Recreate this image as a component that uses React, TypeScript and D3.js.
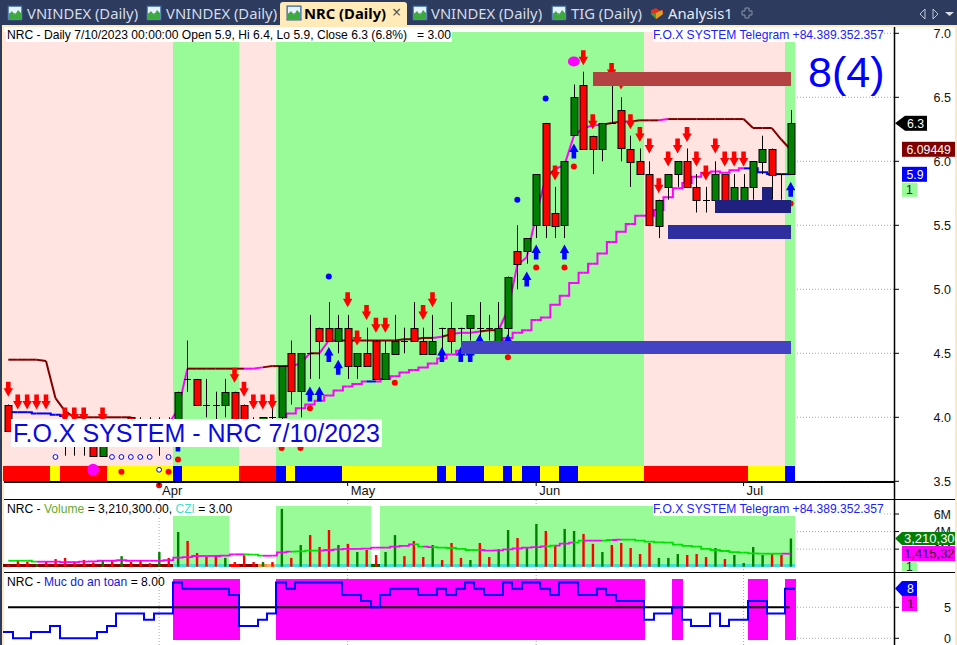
import React from "react";
import * as d3 from "d3";

const FONT = "'Liberation Sans', Arial, sans-serif";
const TAB_FONT = "'Noto Sans', 'Open Sans', sans-serif";

// ---------- data ----------
const opens = [4.1,3.9,3.9,3.9,3.9,3.9,3.9,3.9,3.9,3.9,3.7,3.9,3.9,4.0,3.9,3.9,3.9,3.9,3.8,4.3,4.3,4.1,4.1,4.1,4.2,4.1,3.9,3.9,4.0,4.0,4.5,4.2,4.5,4.7,4.7,4.6,4.7,4.4,4.5,4.6,4.3,4.5,4.6,4.7,4.6,4.5,4.7,4.7,4.7,4.7,4.7,4.7,4.6,4.7,5.3,5.3,5.5,6.3,5.6,5.5,6.2,6.6,6.2,6.1,6.3,6.4,6.1,6.0,5.9,5.5,5.8,5.9,6.0,5.8,5.7,5.7,5.9,5.7,5.7,5.8,6.0,6.1,5.9,5.9];
const highs = [4.1,3.95,3.95,3.95,3.95,3.95,3.95,3.95,3.95,3.95,3.9,3.95,3.95,4.0,4.0,4.0,4.0,4.0,4.2,4.6,4.3,4.3,4.2,4.3,4.2,4.1,4.0,4.0,4.1,4.4,4.6,4.5,4.8,4.7,4.9,4.8,4.8,4.5,4.7,4.6,4.6,4.8,4.7,4.9,4.7,4.8,4.7,4.9,4.7,4.8,4.9,4.8,4.9,5.1,5.5,5.4,5.9,6.3,5.8,6.0,6.6,6.7,6.2,6.3,6.7,6.5,6.2,6.1,6.0,5.7,5.9,6.0,6.1,5.9,5.8,6.0,5.9,5.9,5.9,6.0,6.2,6.1,5.9,6.4];
const lows = [3.9,3.85,3.85,3.85,3.85,3.85,3.7,3.7,3.7,3.7,3.7,3.85,3.85,3.9,3.85,3.85,3.7,3.85,3.8,4.2,4.1,4.0,3.9,4.0,3.9,3.9,3.8,3.9,3.9,3.9,4.1,4.0,4.3,4.3,4.6,4.5,4.3,4.3,4.4,4.3,4.3,4.5,4.5,4.6,4.5,4.5,4.5,4.5,4.5,4.6,4.6,4.6,4.6,4.6,5.0,5.2,5.4,5.4,5.4,5.4,6.2,6.1,5.9,6.0,6.3,6.0,5.8,5.9,5.5,5.4,5.7,5.8,5.8,5.6,5.6,5.7,5.7,5.7,5.7,5.7,5.9,5.7,5.7,5.9];
const closes = [3.9,3.9,3.9,3.9,3.9,3.9,3.9,3.9,3.9,3.7,3.9,3.9,3.9,3.9,3.9,3.9,3.9,3.9,4.2,4.3,4.1,4.1,4.1,4.2,3.9,3.9,3.9,4.0,4.0,4.4,4.2,4.5,4.5,4.6,4.6,4.7,4.4,4.5,4.4,4.3,4.5,4.6,4.6,4.6,4.5,4.6,4.7,4.6,4.7,4.8,4.7,4.7,4.7,5.1,5.2,5.4,5.9,5.5,5.5,6.0,6.5,6.1,6.1,6.3,6.3,6.1,6.0,5.9,5.5,5.7,5.9,6.0,5.8,5.7,5.7,5.9,5.7,5.8,5.8,6.0,6.1,5.9,5.9,6.3];

const upperLine = [4.45,4.45,4.45,4.45,4.44,4.15,4.05,4.0,4.0,4.0,4.0,4.0,4.0,4.0,3.95,3.95,3.95,3.95,4.06,4.38,4.38,4.38,4.38,4.38,4.38,4.38,4.38,4.39,4.40,4.40,4.40,4.42,4.5,4.5,4.6,4.6,4.6,4.6,4.6,4.6,4.6,4.6,4.61,4.61,4.62,4.62,4.63,4.65,4.66,4.66,4.67,4.68,4.68,4.84,5.19,5.25,5.58,5.87,5.94,5.97,6.2,6.26,6.28,6.285,6.30,6.31,6.31,6.32,6.32,6.32,6.33,6.33,6.33,6.33,6.33,6.33,6.33,6.33,6.33,6.26,6.26,6.26,6.17,6.09];
const upperMagentaBars = [18,19,26,27,31,32,34,35,46,48,49,50,53,54,55,56,57,59,60,61,62,63,66,70];

const lowerLine: (number | null)[] = [4.04,4.04,4.04,4.03,4.03,4.02,4.01,null,null,null,null,null,null,null,null,null,null,null,null,null,null,null,null,null,null,null,null,null,null,4.00,4.03,4.07,4.10,4.13,4.17,4.21,4.24,4.26,4.28,4.28,4.30,4.32,4.35,4.37,4.39,4.42,4.46,4.49,4.52,4.53,4.55,4.56,4.59,4.62,4.66,4.68,4.76,4.78,4.88,4.95,5.05,5.13,5.20,5.28,5.37,5.45,5.51,5.575,5.575,5.62,5.72,5.79,5.83,5.88,5.91,5.92,5.91,5.93,5.945,5.945,5.915,5.9,5.9,5.9];
const lowerBlueBars = [0,1,2,3,4,5,6,39,79,80,81,82,83];

const sellBars = [0,1,2,3,4,6,7,8,10,24,25,26,27,28,36,37,38,39,40,44,45,58,61,62,64,65,66,67,68,69,70,71,72,73,74,75,76,77,78];
const sellTips = [4.16,4.06,4.06,4.06,4.06,3.96,3.96,3.96,3.96,4.27,4.16,4.06,4.06,4.06,4.86,4.56,4.76,4.66,4.66,4.76,4.86,5.85,6.75,6.25,6.65,6.56,6.25,6.15,6.06,5.75,5.96,6.06,6.15,5.96,5.85,6.06,5.96,5.96,5.96];
const buyBars = [18,32,33,34,35,46,48,49,50,53,55,56,59,60,83];
const buyTips = [3.85,4.24,4.24,4.55,4.45,4.55,4.55,4.55,4.65,4.65,5.14,5.35,5.35,6.14,5.84];

const redDotBars = [12,16,17,18,29,31,32,41,53,56,59,60,83];
const redDotPrices = [3.575,3.47,3.575,3.67,3.76,3.76,4.07,4.27,4.47,5.17,5.17,5.96,5.67];
const blueDotBars = [34,54,57];
const blueDotPrices = [5.10,5.70,6.49];
const hollowBars = [5,11,12,13,14,15,16,17];
const hollowPrices = [3.69,3.69,3.69,3.69,3.69,3.69,3.59,3.69];

const bandBreaks = [0,18,25,29,68,83,84];
const bandColors = ["#FFE4E1","#98FB98","#FFE4E1","#98FB98","#FFE4E1","#98FB98"];
const stripBreaks = [0,5,6,11,18,19,25,29,30,31,36,46,47,48,51,53,54,55,57,59,61,68,79,83,84];
const stripColors = ["#FF0000","#FFFF00","#FF0000","#FFFF00","#0000FF","#FFFF00","#FF0000","#0000FF","#FFFF00","#0000FF","#FFFF00","#0000FF","#FFFF00","#0000FF","#FFFF00","#0000FF","#FFFF00","#0000FF","#FFFF00","#0000FF","#FFFF00","#FF0000","#FFFF00","#0000FF"];

// zones drawn between two bars and two prices
const zoneLows = [6.59,5.60,5.39,4.495,5.70];
const zoneHighs = [6.70,5.70,5.50,4.60,5.80];
const zoneFrom = [62,75,70,48,80];
const zoneTo = [83,83,83,83,81];
const zoneColors = ["#B44242","#1F2080","#2E2E9E","#4343C4","#1F2080"];

const volumes = [.2,.76,.57,.3,.57,.87,1.0,.57,.76,.5,.76,.76,1.2,.57,.76,.4,1.67,1.0,3.95,2.93,1.56,1.14,1.3,1.0,.53,1.3,.53,.53,.53,6.58,1.0,2.47,3.6,2.24,4.18,2.47,2.6,1.67,1.9,1.33,1.67,3.6,1.2,2.93,1.1,2.47,.76,2.7,1.0,.76,2.7,1.1,2.0,4.18,3.27,2.13,4.87,4.07,2.47,4.3,4.07,3.73,2.6,1.67,2.47,2.7,2.13,1.44,2.7,1.0,1.0,1.44,1.33,1.44,1.1,2.13,.87,1.33,.42,2.24,1.33,1.44,1.33,3.21];
const volumeGreenBars = [3,10,12,16,18,23,27,29,31,35,37,40,41,45,49,52,53,55,56,59,60,63,69,70,71,75,77,78,79,80,83];
const volumeAvg = [.68,.68,.68,.57,.57,.57,.53,.53,.57,.61,.68,.68,.76,.68,.68,.68,.68,.76,1.03,1.10,1.22,1.22,1.22,1.25,1.41,1.41,1.37,1.25,1.25,1.63,1.71,1.75,1.83,1.83,1.90,1.98,2.02,2.02,2.05,2.17,2.17,2.28,2.36,2.55,2.28,2.24,2.17,2.13,2.02,1.90,1.90,1.83,1.86,1.98,2.09,2.17,2.24,2.32,2.40,2.62,2.74,2.97,2.97,2.97,3.04,3.08,3.08,2.97,2.85,2.78,2.74,2.51,2.36,2.28,2.02,1.90,1.79,1.67,1.60,1.52,1.48,1.48,1.48,1.48];
const volumeAvgGreenBars = [0,1,2,3,26,27,31,32,33,44,46,47,48,49,50,58,61,64,66,67,68,69,70,71,72,73,74,75,76,77,78,79,80,81,82];
const volBreaks = [0,18,24,25,27,28,29,39,40,84];
const volBreakColors = ["#8B0000","#40E0D0","#FF0000","#8B0000","#FF8C42","#FFB060","#40E0D0","#006400","#40E0D0"];
const volBandBreaks = [18,24,29,39,40,84];

const safety = [1,0,0,1,1,2,0,0,0,0,1,2,4,4,4,3,4,4,9,8,8,8,8,8,7,2,2,3,4,9,8,9,9,9,9,9,7,7,6,5,7,8,8,8,7,7,8,7,8,9,8,7,7,9,8,9,9,8,7,9,9,7,7,8,7,6,6,6,3,4,4,5,3,2,2,4,2,3,3,6,6,4,4,8];

const priceTicks = [3.5,4.0,4.5,5.0,5.5,6.0,6.5,7.0];
const volTicks = [2,4,6];
const safetyTicks = [0,5];
const monthLabels = ["Apr","May","Jun","Jul"];
const monthBars = [16,36,56,78];
const tabLabels = ["VNINDEX (Daily)","VNINDEX (Daily)","NRC (Daily)","VNINDEX (Daily)","TIG (Daily)"];

// ---------- scales ----------
const x = d3.scaleLinear().domain([0, 83]).range([8.3, 790.7]);
const edge = (k: number) => Math.floor(x(k - 0.5));
const y = d3.scaleLinear().domain([3.5, 7]).range([481.3, 33.3]);
const yVol = d3.scaleLinear().domain([0, 6]).range([566.7, 514]);
const ySafe = d3.scaleLinear().domain([0, 5]).range([638.3, 607.3]);

const stepPair = d3.line<[number, number]>().x((d) => d[0]).y((d) => d[1]).curve(d3.curveStep);
const straightPair = d3.line<[number, number]>().x((d) => d[0]).y((d) => d[1]);

function Arrow({ cx, tip, dir, color }: { cx: number; tip: number; dir: 1 | -1; color: string }) {
  const pts: [number, number][] = [
    [0, 0],[4.7, -8.5],[2.3, -8.5],[2.3, -15],[-2.3, -15],[-2.3, -8.5],[-4.7, -8.5],
  ];
  const d = d3.line()(pts.map(([a, b]) => [cx + a, tip + b * dir])) + "Z";
  return <path d={d} fill={color} />;
}

function Icon({ px }: { px: number }) {
  return (
    <g>
      <rect x={px} y={6} width={14} height={14} fill="#7FB2E5" stroke="#3B5E8E" />
      <rect x={px + 1} y={7} width={12} height={6} fill="#E8F2FC" />
      <path d={`M${px + 1} 19 L${px + 1} 14 L${px + 4} 11 L${px + 7} 15 L${px + 10} 10 L${px + 13} 13 L${px + 13} 19Z`} fill="#3DAA3D" />
    </g>
  );
}

function PriceFlag({ px, cy, w, h, fill, text, tc, pointer, tx = 3, fs = 12.3 }: { px: number; cy: number; w: number; h: number; fill: string; text: string; tc: string; pointer?: boolean; tx?: number; fs?: number }) {
  return (
    <g>
      {pointer ? <path d={`M895 ${cy} L${px} ${cy - h / 2} L${px} ${cy + h / 2}Z`} fill={fill} /> : null}
      <rect x={px} y={cy - h / 2} width={w} height={h} fill={fill} />
      <text x={px + tx} y={cy + 4.5} fontSize={fs} fill={tc} fontFamily={FONT}>{text}</text>
    </g>
  );
}

export default function App() {
  return (
    <svg width={957} height={645} style={{ position: "absolute", left: 0, top: 0, display: "block", background: "#fff" }}>
      {/* tab bar */}
      <rect x={0} y={0} width={957} height={25} fill="#2C3B5E" />
      <rect x={0} y={25} width={2} height={620} fill="#2C3B5E" />
      <rect x={2} y={25} width={955} height={2} fill="#FFE9BC" />
      <rect x={2} y={25} width={2} height={620} fill="#FFE9BC" />
      <path d="M280 25 L280 5 Q280 2 283 2 L404 2 Q407 2 407 5 L407 25Z" fill="#FFEAB8" />
      {[8, 147, 287, 413, 552].map((px, i) => <Icon key={i} px={px} />)}
      {[27, 166, 304, 431, 571].map((px, i) => (
        <text key={i} x={px} y={19} fontSize={14.8} fontFamily={TAB_FONT} fontWeight={i === 2 ? 700 : 400} fill={i === 2 ? "#000" : "#D6DCE8"}>{tabLabels[i]}</text>
      ))}
      <text x={392} y={18} fontSize={16} fontFamily={TAB_FONT} fill="#555">×</text>
      <path d="M656 8 l4 3 l3 -1 l0 4 l-6 5 l-6 -5 l0 -4 l3 -1Z" fill="#E03020" />
      <path d="M656 13 l6 -3 l1 4 l-7 5Z" fill="#E0A020" />
      <path d="M651 14 l5 -1 l0 6Z" fill="#40A040" />
      <text x={668} y={19} fontSize={14.8} fontFamily={TAB_FONT} fill="#E6EAF2">Analysis1</text>
      <path d="M745 8 h4 v3 h3 v4 h-3 v3 h-4 v-3 h-3 v-4 h3Z" fill="none" stroke="#8A94A8" strokeWidth={1} />
      <path d="M925 9 l-5 5 l5 5Z" fill="none" stroke="#C0C8D8" />
      <path d="M933 9 l5 5 l-5 5Z" fill="none" stroke="#C0C8D8" />
      <path d="M945 12 h9 l-4.500 4Z" fill="#D8DEE8" />

      {/* month grid lines */}
      {monthBars.map((b) => (
        <line key={b} x1={x(b)} x2={x(b)} y1={500} y2={645} stroke="#AAA" strokeDasharray="1 2" />
      ))}

      {/* main bands */}
      {bandColors.map((c, i) => (
        <rect key={i} x={edge(bandBreaks[i])} width={edge(bandBreaks[i + 1]) - edge(bandBreaks[i])} y={32} height={449} fill={c} shapeRendering="crispEdges" />
      ))}
      {/* price grid */}
      {priceTicks.map((t) => (
        <g key={t}>
          <line x1={797} x2={895} y1={y(t)} y2={y(t)} stroke="#AAA" strokeDasharray="1 2" />
          <line x1={895} x2={899} y1={y(t)} y2={y(t)} stroke="#000" />
          <text x={951} y={y(t) + 4.5} textAnchor="end" fontSize={12.5} fontFamily={FONT} fill="#111">{t.toFixed(1)}</text>
        </g>
      ))}

      {/* strip */}
      {stripColors.map((c, i) => (
        <rect key={i} x={edge(stripBreaks[i])} width={edge(stripBreaks[i + 1]) - edge(stripBreaks[i])} y={466} height={15} fill={c} shapeRendering="crispEdges" />
      ))}

      {/* upper line */}
      {upperLine.slice(1).map((v, i) => (
        <path key={i} d={straightPair([[x(i), y(upperLine[i])], [x(i + 1), y(v)]])!} fill="none" strokeWidth={2}
          stroke={upperMagentaBars.includes(i + 1) ? "#FF00FF" : "#800000"} />
      ))}
      {/* lower line */}
      {lowerLine.slice(1).map((v, i) =>
        v != null && lowerLine[i] != null ? (
          <path key={i} d={stepPair([[x(i), y(lowerLine[i] as number)], [x(i + 1), y(v)]])!} fill="none" strokeWidth={2}
            stroke={lowerBlueBars.includes(i + 1) ? "#0000FF" : "#FF00FF"} />
        ) : null
      )}

      {/* candles */}
      {opens.map((o, i) => {
        const c = closes[i];
        const top = y(Math.max(o, c));
        const bot = y(Math.min(o, c));
        const cx = Math.round(x(i)) + 0.5;
        return (
          <g key={i}>
            <line x1={cx} x2={cx} y1={y(highs[i])} y2={y(lows[i])} stroke="#000" />
            {o === c ? (
              <line x1={cx - 3.5} x2={cx + 3.5} y1={Math.round(top) + 0.5} y2={Math.round(top) + 0.5} stroke="#000" />
            ) : (
              <rect x={cx - 3.5} width={7} y={Math.round(top) + 0.5} height={Math.round(bot - top)} fill={c > o ? "#008000" : "#FF0000"} stroke="#000" />
            )}
          </g>
        );
      })}

      {/* arrows & markers */}
      {sellBars.map((b, i) => <Arrow key={i} cx={x(b)} tip={y(sellTips[i])} dir={1} color="#FF0000" />)}
      {buyBars.map((b, i) => <Arrow key={i} cx={x(b)} tip={y(buyTips[i])} dir={-1} color="#0000FF" />)}
      {redDotBars.map((b, i) => <circle key={i} cx={x(b)} cy={y(redDotPrices[i])} r={3} fill="#FF0000" />)}
      {blueDotBars.map((b, i) => <circle key={i} cx={x(b)} cy={y(blueDotPrices[i])} r={3} fill="#0000FF" />)}
      {hollowBars.map((b, i) => <circle key={i} cx={x(b)} cy={y(hollowPrices[i])} r={2.4} fill="#fff" stroke="#0000FF" />)}
      <circle cx={x(9)} cy={y(3.59)} r={6} fill="#FF00FF" />
      <ellipse cx={x(60)} cy={y(6.78)} rx={6} ry={5} fill="#FF00FF" />

      {/* zones */}
      {zoneLows.map((lo, i) => (
        <rect key={i} x={x(zoneFrom[i])} width={x(zoneTo[i]) - x(zoneFrom[i])} y={y(zoneHighs[i])} height={y(lo) - y(zoneHighs[i])} fill={zoneColors[i]} shapeRendering="crispEdges" />
      ))}

      {/* overlay texts */}
      <rect x={6} y={27} width={446} height={15} fill="#fff" />
      <text x={7} y={39} fontSize={12.1} fontFamily={FONT} fill="#000" xmlSpace="preserve">NRC - Daily 7/10/2023 00:00:00 Open 5.9, Hi 6.4, Lo 5.9, Close 6.3 (6.8%)   = 3.00</text>
      <rect x={653} y={30} width={231} height={12} fill="#fff" />
      <text x={653} y={39} fontSize={12.1} fontFamily={FONT} fill="#2020FF">F.O.X SYSTEM Telegram +84.389.352.357</text>
      <text x={808} y={87} fontSize={43} fontFamily={FONT} fill="#0000FF">8(4)</text>
      <rect x={11} y={419} width={371} height={28} fill="#fff" />
      <text x={13} y={442} fontSize={25} fontFamily={FONT} fill="#0A0AE0">F.O.X SYSTEM - NRC 7/10/2023</text>

      {/* separators */}
      <line x1={4} x2={895} y1={482} y2={482} stroke="#000" strokeWidth={2} />
      <line x1={4} x2={955} y1={499.5} y2={499.5} stroke="#000" />
      <line x1={4} x2={955} y1={572.5} y2={572.5} stroke="#000" />
      <line x1={894.5} x2={894.5} y1={27} y2={645} stroke="#000" strokeWidth={1.5} />

      {/* month ticks and labels */}
      {monthBars.map((b, i) => (
        <g key={b}>
          <line x1={x(b)} x2={x(b)} y1={482} y2={486} stroke="#000" />
          <text x={x(b) + 3} y={495} fontSize={13} fontFamily={FONT} fill="#111">{monthLabels[i]}</text>
        </g>
      ))}

      {/* volume pane */}
      {volBandBreaks.slice(0, -1).map((k, i) =>
        i % 2 === 0 ? (
          <rect key={k} x={edge(k)} width={edge(volBandBreaks[i + 1]) - edge(k)} y={506} height={60.7} fill="#98FB98" shapeRendering="crispEdges" />
        ) : null
      )}
      {volBreakColors.map((c, i) => (
        <rect key={i} x={edge(volBreaks[i])} width={edge(volBreaks[i + 1]) - edge(volBreaks[i])} y={564} height={3} fill={c} shapeRendering="crispEdges" />
      ))}
      {volumes.map((v, i) => (
        <rect key={i} x={x(i) - 1} width={2.4} y={yVol(v)} height={yVol(0) - yVol(v)} fill={volumeGreenBars.includes(i) ? "#008000" : "#FF0000"} />
      ))}
      {volumeAvg.slice(1).map((v, i) => (
        <path key={i} d={stepPair([[x(i), yVol(volumeAvg[i])], [x(i + 1), yVol(v)]])!} fill="none" strokeWidth={1.8}
          stroke={volumeAvgGreenBars.includes(i + 1) ? "#00E000" : "#FF00FF"} />
      ))}
      <rect x={6} y={501} width={227} height={15} fill="#fff" />
      <text x={7} y={513} fontSize={12.1} fontFamily={FONT} fill="#000">
        NRC - <tspan fill="#6AA82A">Volume</tspan> = 3,210,300.00, <tspan fill="#40E0D0">CZI</tspan> = 3.00
      </text>
      <rect x={653} y={503} width={231} height={13} fill="#fff" />
      <text x={653} y={513} fontSize={12.1} fontFamily={FONT} fill="#2020FF">F.O.X SYSTEM Telegram +84.389.352.357</text>
      {volTicks.map((t) => (
        <g key={t}>
          <line x1={t === 6 ? 884 : 797} x2={895} y1={yVol(t)} y2={yVol(t)} stroke="#AAA" strokeDasharray="1 2" />
          <line x1={895} x2={899} y1={yVol(t)} y2={yVol(t)} stroke="#000" />
          <text x={951} y={yVol(t) + 4.5} textAnchor="end" fontSize={12.5} fontFamily={FONT} fill="#111">{t}M</text>
        </g>
      ))}

      {/* safety pane */}
      {safety.map((s, i) =>
        s >= 5 ? <rect key={i} x={edge(i)} width={edge(i + 1) - edge(i) + 1} y={579} height={60.7} fill="#FF00FF" shapeRendering="crispEdges" /> : null
      )}
      <line x1={8} x2={790} y1={ySafe(5)} y2={ySafe(5)} stroke="#000" strokeWidth={2} />
      <path d={d3.line<number>().x((_, i) => edge(i)).y((d) => ySafe(d)).curve(d3.curveStepAfter)([...safety, safety[safety.length - 1]])!}
        fill="none" stroke="#0000FF" strokeWidth={2} />
      <text x={7} y={586} fontSize={12.1} fontFamily={FONT} fill="#000">
        NRC - <tspan fill="#1414E0">Muc do an toan</tspan> = 8.00
      </text>
      {safetyTicks.map((t) => (
        <g key={t}>
          <line x1={797} x2={895} y1={ySafe(t)} y2={ySafe(t)} stroke="#AAA" strokeDasharray="1 2" />
          <line x1={895} x2={899} y1={ySafe(t)} y2={ySafe(t)} stroke="#000" />
          <text x={951} y={ySafe(t) + 4.5} textAnchor="end" fontSize={12.5} fontFamily={FONT} fill="#111">{t}</text>
        </g>
      ))}

      {/* value flags */}
      <PriceFlag px={905} cy={123.3} w={22} h={15} fill="#000" text="6.3" tc="#fff" pointer tx={2} />
      <PriceFlag px={902} cy={149.3} w={53} h={15} fill="#800000" text="6.09449" tc="#fff" tx={4.5} />
      <PriceFlag px={902} cy={174.3} w={25} h={15} fill="#0000FF" text="5.9" tc="#fff" tx={4.5} />
      <PriceFlag px={902} cy={189.8} w={15} h={14} fill="#98FB98" text="1" tc="#222" tx={4} />
      <PriceFlag px={902} cy={538.5} w={53} h={13} fill="#008000" text="3,210,300" tc="#fff" pointer tx={2} fs={13} />
      <PriceFlag px={902} cy={553.5} w={53} h={15} fill="#FF00FF" text="1,415,320" tc="#222" tx={2} fs={13} />
      <PriceFlag px={902} cy={566.5} w={15} h={9} fill="#98FB98" text="1" tc="#222" tx={4} />
      <PriceFlag px={902} cy={588.5} w={15} h={15} fill="#0000FF" text="8" tc="#fff" pointer tx={5} />
      <PriceFlag px={902} cy={603.5} w={15} h={15} fill="#FF00FF" text="1" tc="#222" tx={5} />
      <rect x={955} y={27} width={2} height={618} fill="#FFE9BC" />
    </svg>
  );
}
